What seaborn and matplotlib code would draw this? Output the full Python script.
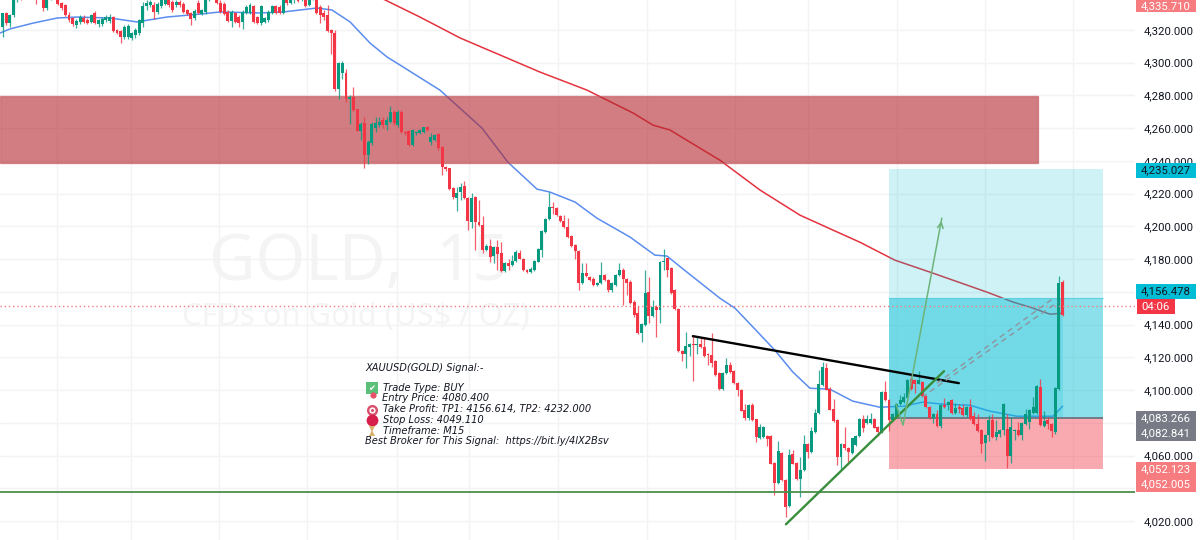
import numpy as np
import matplotlib
matplotlib.use("Agg")
import matplotlib.pyplot as plt
from matplotlib.lines import Line2D
from matplotlib.patches import Rectangle
import seaborn as sns

# candles
opens = [
    4321.6,4330.2,4324,4329.1,4338,4341,4340,4342,4343,4341,
    4340,4341,4333.2,4339,4341,4342,4336.3,4335.2,4329.1,4327.1,
    4323,4325,4327.1,4326.1,4325,4330.6,4323.6,4323.6,4326.1,4325.7,
    4327.7,4320,4319.6,4315.5,4315.5,4314.9,4316.9,4318,4324,4334.6,
    4335.2,4335.2,4331.2,4334.6,4336,4339,4337.3,4335.2,4337.3,4335.9,
    4332.2,4330.2,4327.1,4336.3,4329.7,4331.2,4338,4341,4340,4336.7,
    4335.9,4331.2,4325.7,4330.2,4328.1,4325,4330.6,4330.6,4334.6,4327.7,
    4324.4,4325,4326.1,4330.2,4334.6,4334.2,4330.6,4339,4336.7,4338,
    4339,4338,4341,4335.2,4339,4341,4333.8,4330.2,4329.1,4320,
    4318,4283.7,4293.9,4293.9,4277.6,4279.2,4271.5,4258.4,4262.9,4243.6,
    4250.7,4259.9,4261.9,4265,4261.9,4263.9,4270,4261.9,4270,4257.8,
    4258.4,4249.7,4256.8,4257.2,4257.8,4260.5,4251.7,4252.7,4256.2,4248.3,
    4236.4,4235.4,4223.6,4217.1,4221.2,4224.6,4217.1,4202.8,4217.7,4202.8,
    4200.8,4185.9,4188,4181.9,4187.6,4183.9,4172.9,4177.8,4176.4,4179,
    4183.9,4180.4,4173.7,4172.3,4173.3,4178.4,4185.9,4196.7,4204.3,4212,
    4211,4206.3,4203.4,4199.4,4194.1,4188.6,4185.1,4165.6,4171.3,4169.2,
    4168.2,4164.1,4165.2,4170.2,4167.2,4161.1,4164.1,4170.2,4173.7,4167.6,
    4166.2,4154,4146.9,4135,4139.7,4160.1,4145.2,4151,4148.9,4178,
    4180.5,4174.4,4161.1,4149.3,4124,4122,4126.5,4128.1,4127.5,4128.5,
    4126.5,4122.4,4121.4,4117.9,4110.2,4101,4110.2,4115.3,4111.8,4104.5,
    4100.4,4088.2,4083.3,4090.9,4082.1,4071.1,4071.5,4071.9,4071.9,4055.6,
    4043.4,4061.7,4045.4,4029.1,4060.9,4055.6,4046,4051.1,4067,4062.3,
    4074.6,4085.8,4103.1,4113.3,4101,4088.8,4081.7,4058.9,4067,4064.4,
    4061.7,4066.4,4071.9,4082.5,4080.1,4080.1,4082.5,4077.6,4074.6,4099,
    4093.8,4081.6,4083.7,4091.4,4092.8,4095.5,4107.1,4106.5,4104,4105,
    4096.3,4089.8,4083.3,4085.3,4078.2,4090.8,4090.8,4093.8,4086.1,4089.8,
    4089.4,4084.7,4089.8,4084.1,4079.6,4075.5,4067.8,4072.5,4082,4071.4,
    4073.5,4075.5,4076.5,4059.6,4074.9,4075.5,4072.5,4079.2,4080.6,4086.1,
    4086.1,4102,4078.2,4081.6,4079.6,4074.5,4101,4166.2,
]
closes = [
    4330.2,4324.4,4329.1,4338.3,4341,4340,4342,4343,4341,4340,
    4341,4333.2,4339,4341,4342,4335.9,4333.2,4329.1,4326.1,4323.6,
    4325.7,4328.1,4325,4324.4,4329.1,4324.4,4326.1,4326.5,4328.1,4328.1,
    4319.6,4318.3,4315.5,4322,4322.4,4317.9,4320,4326.1,4334.6,4336.3,
    4337.3,4331.2,4335.9,4338.3,4339,4335.2,4332.2,4337.3,4335.2,4331.2,
    4329.7,4326.5,4331.8,4330.2,4332.2,4338.3,4341,4343,4336.7,4331.2,
    4329.7,4325.7,4331.2,4325,4324.4,4331.2,4333.8,4335.2,4325,4324.4,
    4334.6,4327.1,4331.2,4334.6,4330.6,4330.6,4338.3,4336.3,4338.6,4339,
    4337.5,4341,4334.6,4339,4341,4330.2,4329.1,4328.1,4319.6,4318,
    4283.7,4300,4300,4277.6,4279.2,4271.1,4258.4,4262.5,4243.6,4251.7,
    4262.5,4262.9,4264,4261.9,4265,4270,4262.9,4270,4257.8,4256.8,
    4249.7,4258.9,4257.8,4258.9,4260.5,4258.9,4254.8,4255.8,4247.7,4236.4,
    4234.8,4222.6,4217.7,4220.6,4223.8,4217.1,4203.4,4217.1,4202.8,4200.8,
    4185.5,4188,4181.4,4187.2,4183.1,4172.9,4177.8,4175.7,4179,4184.5,
    4180.4,4173.3,4172.3,4174.3,4179,4186.5,4197.3,4204.3,4212,4211,
    4206.9,4203.4,4199.4,4193.3,4188,4185.1,4165.2,4171.3,4169.6,4167.2,
    4164.1,4165.6,4170.2,4167.2,4161.1,4165.2,4170.2,4173.7,4167.6,4165.2,
    4153.4,4145.9,4135,4140.4,4159.5,4145.2,4151,4148.9,4178.4,4179,
    4173.4,4159.5,4149.3,4124,4122,4126.9,4128.1,4127.5,4128.5,4126.1,
    4120.8,4121.4,4116.3,4109.2,4101,4110.2,4115.3,4111.2,4104.5,4100,
    4087.4,4083.3,4090.9,4081.7,4071.5,4077.6,4077.6,4069.9,4055.2,4043.4,
    4063,4045,4028.7,4060.3,4055.2,4046,4051.5,4067,4062.3,4075.2,
    4086.2,4103.7,4113.9,4100.4,4088.2,4081.3,4058.9,4067,4064.4,4062.3,
    4070.5,4071.9,4082.5,4076.6,4082.7,4082.7,4077.2,4074.6,4099,4093.8,
    4081.6,4085.7,4091.8,4094.3,4095.9,4106.5,4101,4104,4106.5,4096.3,
    4089.8,4083.3,4085.7,4078.2,4090.8,4089.8,4092.8,4086.1,4089.4,4088.8,
    4084.7,4089.8,4082.6,4079.6,4075.1,4067.4,4072.5,4082,4071.4,4074.5,
    4075.5,4091.8,4059.6,4077.5,4075.5,4072.5,4080,4085.3,4087.7,4089.8,
    4102.4,4078.6,4081.2,4079.6,4075.1,4101.6,4165.6,4146.2,
]
highs = [
    4330.6,4331,4330,4340,4343,4343,4344,4345,4344,4343,
    4343,4342,4341,4343,4344,4343,4337,4336,4331,4328,
    4327,4329,4329,4327.5,4330,4331.5,4327,4328,4329,4329.5,
    4328.5,4320.5,4320,4323,4323.5,4319,4321,4327,4337,4338,
    4338.3,4337,4337,4340,4341,4340,4338,4338,4338,4337,
    4333,4331,4332.5,4338,4333,4340,4342,4344,4341,4338,
    4337,4332,4332,4331,4329,4332,4335,4336.5,4335.5,4328.5,
    4335.5,4328,4332,4335.5,4335.5,4335,4340,4340,4340,4340,
    4341,4342,4342,4340,4342,4342,4335,4332,4335.2,4320.5,
    4320,4300.5,4301,4296,4280,4285,4272,4263.5,4267,4252.5,
    4263.5,4267,4267,4267,4267,4273.5,4271,4271,4271,4258.5,
    4259,4259.5,4258.5,4259.5,4261,4261.2,4256.8,4256.5,4257,4249,
    4237,4236,4224,4224.2,4226.3,4227.9,4218,4220.2,4218.5,4216.1,
    4206.3,4189,4192.6,4188,4191.6,4190.6,4178.5,4180.4,4182.5,4185.5,
    4185.9,4181,4174.3,4175,4179.6,4187,4198,4205,4221.2,4215,
    4212,4207,4206.9,4204.9,4194.8,4189.2,4185.9,4177.8,4177.4,4169.8,
    4169,4166.3,4178.4,4171,4168,4166,4171,4177.8,4174.5,4168.3,
    4167,4154.8,4151.6,4141,4173.4,4169.3,4155,4152,4179,4186,
    4181,4175,4162,4150,4124.5,4135.7,4129,4133,4132.2,4132,
    4132,4123,4134.7,4118.5,4110.8,4111,4119.4,4117.3,4112.4,4105,
    4101,4091.5,4091.5,4091.9,4082.7,4079.2,4078.2,4072.5,4072.5,4056,
    4069,4062.2,4046,4063.8,4063.4,4056,4059.3,4072.5,4067.5,4077.6,
    4088.8,4112.2,4117.3,4116.3,4102,4094.9,4082.2,4067.5,4077.6,4065,
    4071,4072.5,4083,4084.7,4084.7,4085.8,4083,4078.2,4099.5,4105.5,
    4094.4,4086.3,4092.4,4096.9,4098,4107,4110.1,4107,4111.8,4105.6,
    4097,4090.4,4086.3,4087.7,4091.4,4095.5,4093.4,4094.4,4092.2,4091.8,
    4091.8,4090.4,4094.9,4086.7,4085.7,4076,4073,4084.7,4085.3,4081.6,
    4076,4092.4,4085.3,4083.7,4076,4080.6,4080.6,4088.8,4088.3,4095.9,
    4103,4107.1,4087.3,4083.7,4080.2,4102.2,4169.6,4167,
]
lows = [
    4315.9,4323,4321.6,4328,4337,4338,4339,4341,4340,4336,
    4339,4331.5,4332,4338,4340,4335,4332,4328.5,4325,4322.5,
    4321,4323.5,4324,4323.5,4324,4323.5,4321.6,4322.5,4325,4324,
    4319,4317.5,4312.2,4314.5,4314.5,4314,4315,4317,4322,4332,
    4334,4327,4330,4333.5,4335,4334,4331,4334,4334,4330.5,
    4329,4323,4326,4329.5,4329,4330,4337.5,4340,4336,4330.5,
    4329,4325,4322,4324,4322,4320.4,4330,4330,4324,4323.5,
    4323,4324.5,4325,4329.5,4330,4330,4330,4335.5,4336,4336.5,
    4337,4337.5,4334,4334.5,4338,4329.5,4324.4,4326.1,4318.5,4305.3,
    4283,4277.6,4289.8,4276,4262.5,4270.5,4258,4252.7,4235.4,4238.1,
    4250,4257.8,4260.9,4259.9,4258.9,4263,4262,4261,4257,4256,
    4249,4249,4256,4256.5,4257,4258.3,4249.7,4252,4246.6,4231.4,
    4234,4222,4217,4209.6,4216.1,4216.5,4197.7,4198.8,4185.9,4200,
    4183.9,4185,4178.4,4177.4,4173.3,4172.3,4172.3,4173.3,4175.7,4178.4,
    4180,4172.8,4171.8,4171.3,4172.8,4178,4181.4,4196,4203.8,4207.9,
    4206.3,4202.8,4198.8,4192.8,4187.4,4180.4,4161.1,4165,4169,4166.6,
    4163.5,4163.5,4164.6,4166.6,4160,4160,4163.5,4169.6,4152,4158,
    4152.8,4144.4,4134.4,4129.6,4139,4140.8,4144.5,4132.6,4141.2,4173.4,
    4169.3,4159,4149,4123.5,4118,4113.3,4120.8,4105.7,4122,4125.5,
    4120.2,4115.3,4114.3,4108.6,4100.4,4100,4109.7,4110.6,4104,4096.4,
    4087,4081.7,4081.7,4081,4068.5,4069.9,4071,4065.8,4054.8,4035.9,
    4043,4044.5,4022.6,4028.7,4054.8,4045,4034.8,4050.5,4058.3,4061.8,
    4074,4085.2,4102.5,4100,4087.7,4080.8,4054.2,4051.5,4063.4,4056.2,
    4061,4065.9,4071.4,4074.6,4079.5,4079.5,4076.6,4071.9,4074,4093.2,
    4075.1,4081,4083,4090.8,4092.2,4095,4100.4,4098.3,4103.5,4095.8,
    4089.2,4082.7,4080,4077.6,4076.9,4089.2,4087.7,4085.5,4085.5,4086,
    4084.1,4083.5,4081.6,4079,4074.5,4061.7,4056.8,4069,4070.8,4069.4,
    4071.4,4072.5,4052.7,4055.8,4069.4,4071.9,4069.4,4078.6,4076.5,4085.5,
    4085.5,4078,4077.6,4076.5,4071.4,4073.5,4100.4,4145.6,
]

# moving averages, vertices (bar number, price)
ma_fast_bar = [-0.7,2,8.3,14.8,20.2,29.1,36.4,44.5,53.5,58.9,69.7,76,85.1,89.2,94.1,99.5,104.1,107.6,
               118.4,129.8,136.8,144.7,148.2,155,160.9,169.9,176.6,179.9,185.3,194.2,198.3,203.2,
               209.1,214,218.6,224,230.2,237.5,243.8,249.2,254.3,261.9,267.3,274.6,284.4,287]
ma_fast = [4318.1,4320.6,4324.2,4327.3,4327.9,4327.3,4324.9,4327.9,4329.7,4331,4330.4,4331,4333.4,4332.2,
           4324.9,4312,4303.5,4298.6,4283.3,4260.1,4239.3,4222.8,4221,4214.9,4205.1,4193.5,4182.5,4181.9,
           4172.1,4156.2,4150.1,4138.5,4124.4,4111,4101.2,4100.6,4093.3,4089.6,4090.2,4092.7,4091.5,
           4090.8,4087.2,4084.1,4084.1,4090.2]
ma_slow_bar = [100.8,113,123.9,134.7,145.5,158.2,170.7,176.1,180.7,183.4,194.2,205.1,215.9,224.8,232.1,
               241.6,251.1,266.5,273.6,278.2,283.6,286.8]
ma_slow = [4341.4,4327.9,4315.1,4304.7,4294.3,4283.3,4269.3,4261.9,4258.9,4255.2,4240.5,4222.2,4206.9,
           4197.8,4190.4,4179.4,4172.1,4159.9,4153.8,4150.7,4146.4,4147]

# drawings on the chart
black_bar = [186.9, 258.9]
black_price = [4133, 4104.3]
trend_bar = [212.1, 254.9]
trend_price = [4018.1, 4111.6]
arrow_bar = [241.9, 243.8, 254.3]
arrow_price = [4091.5, 4078.6, 4205.1]
dash1_bar = [253, 284.9]
dash1_price = [4104.3, 4156.8]
dash2_bar = [248.9, 285.7]
dash2_price = [4095.7, 4153.8]

support = 4037.7
last_line = 4151.3
zone_top, zone_bottom = 4279.6, 4238.7
tp2, tp1, entry, stop = 4235.027, 4156.478, 4082.841, 4052.123
tool_left, tool_right, tool_split = 240, 297.9, 287
zone_right = 280.3

y_ticks = list(range(4020, 4340, 20))
covered_ticks = [4040, 4080, 4160]  # sit behind the coloured price tags
x_grid = [14.8, 34.8, 58.6, 82.4, 106.8, 126.3, 150.4, 174.5, 198.3, 218, 242.2, 266, 289.8]

signal_lines = [
    (365, 368, "XAUUSD(GOLD) Signal:-"),
    (383, 388, "Trade Type: BUY"),
    (382, 398, "Entry Price: 4080.400"),
    (383, 409, "Take Profit: TP1: 4156.614, TP2: 4232.000"),
    (383, 420, "Stop Loss: 4049.110"),
    (383, 431, "Timeframe: M15"),
    (365, 441, "Best Broker for This Signal:  https://bit.ly/4lX2Bsv"),
]
price_tags = [
    (0, 12, "#F77C80", [("4,335.710", "white", 6)]),
    (163, 178, "#00BCD4", [("4,235.027", "#131722", 170.5)]),
    (284, 299, "#00BCD4", [("4,156.478", "#131722", 291.5)]),
    (411, 441, "#787B86", [("4,083.266", "white", 418.5), ("4,082.841", "white", 433.5)]),
    (462, 492, "#F77C80", [("4,052.123", "white", 469.5), ("4,052.005", "white", 484.5)]),
]

sns.set_theme(style="white")
plt.rcParams["font.family"] = ["Roboto", "DejaVu Sans"]

GREEN = "#089981"
RED = "#F23645"

fig = plt.figure(figsize=(12, 5.4), dpi=100)
ax = fig.add_axes([0, 0, 1135 / 1200, 1])
bars = np.arange(len(opens))
o, c, h, l = map(np.array, (opens, closes, highs, lows))
up = c >= o

ax.set_xlim(-0.677, 306.6)
ax.set_ylim(4008.5, 4338.3)
ax.set_xticks(x_grid)
ax.set_yticks(y_ticks)
ax.set_yticklabels(["" if v in covered_ticks else f"{v:,.3f}" for v in y_ticks], fontsize=8.2, color="#131722")
ax.yaxis.tick_right()
ax.tick_params(axis="y", length=0, pad=6.3)
ax.tick_params(axis="x", length=0, labelbottom=False)
ax.grid(True, color="#F2F3F4", lw=1)
ax.set_axisbelow(True)
sns.despine(ax=ax, left=True, bottom=True, right=True, top=True)

# watermark
ax.text(0.1845, 0.4815, "GOLD,  15", transform=ax.transAxes, fontsize=46, color="#F4F4F5",
        family="Noto Sans", ha="left", va="baseline", zorder=0.5)
ax.text(0.16, 0.398, "CFDs on Gold (US$ / OZ)", transform=ax.transAxes, fontsize=22.2, color="#F4F4F5",
        family="Noto Sans", ha="left", va="baseline", zorder=0.5)

# moving averages go under the zones
sns.lineplot(x=ma_fast_bar, y=ma_fast, ax=ax, color="#5B8DEF", lw=1.1, sort=False, estimator=None, zorder=1)
sns.lineplot(x=ma_slow_bar, y=ma_slow, ax=ax, color="#E5323F", lw=1.1, sort=False, estimator=None, zorder=1)

# long position tool
ax.add_patch(Rectangle((tool_left, tp1), tool_right - tool_left, tp2 - tp1, fc="#00BCD4", alpha=0.19, lw=0, zorder=1.5))
ax.add_patch(Rectangle((tool_left, entry), tool_right - tool_left, tp1 - entry, fc="#00BCD4", alpha=0.45, lw=0, zorder=1.5))
ax.add_patch(Rectangle((tool_left, entry), tool_split - tool_left, tp1 - entry, fc="#00BCD4", alpha=0.18, lw=0, zorder=1.5))
ax.add_patch(Rectangle((tool_left, stop), tool_right - tool_left, entry - stop, fc="#F23645", alpha=0.42, lw=0, zorder=1.5))
ax.hlines(entry, tool_left, tool_right, color="#6E7480", lw=1.3, zorder=1.6)
ax.hlines(tp1, tool_left, tool_right, color="#5CCFE0", lw=0.8, zorder=1.6)

# supply zone
ax.add_patch(Rectangle((-0.677, zone_bottom), zone_right + 0.677, zone_top - zone_bottom, fc="#B3272D", ec="#C2565C",
                       alpha=0.6, lw=1, zorder=2))

# candles
ax.vlines(bars[up], l[up], h[up], color=GREEN, lw=0.9, alpha=0.8, zorder=3)
ax.vlines(bars[~up], l[~up], h[~up], color=RED, lw=0.9, alpha=0.8, zorder=3)
ax.bar(bars[up], (c - o)[up], bottom=o[up], width=0.8, color=GREEN, lw=0, zorder=3.1)
ax.bar(bars[~up], (o - c)[~up], bottom=c[~up], width=0.8, color=RED, lw=0, zorder=3.1)

# lines drawn on the chart
ax.axhline(support, color="#4C8F4C", lw=1.3, zorder=3.2)
ax.axhline(last_line, color="#F77C80", lw=1, ls=(0, (1, 2)), zorder=3.2)
sns.lineplot(x=black_bar, y=black_price, ax=ax, color="black", lw=1.7, sort=False, estimator=None, zorder=4)
sns.lineplot(x=trend_bar, y=trend_price, ax=ax, color="#388E3C", lw=1.7, sort=False, estimator=None, zorder=4)
sns.lineplot(x=arrow_bar, y=arrow_price, ax=ax, color="#6DB47A", lw=1.1, sort=False, estimator=None, zorder=4)
ax.annotate("", xy=(arrow_bar[-1], arrow_price[-1]), xytext=(arrow_bar[-1] - 0.4, arrow_price[-1] - 6),
            arrowprops=dict(arrowstyle="->", color="#6DB47A", lw=1.1, mutation_scale=10), zorder=4)
for dx, dy in [(dash1_bar, dash1_price), (dash2_bar, dash2_price)]:
    ax.plot(dx, dy, color="#8E939C", lw=1, ls=(0, (4, 3)), zorder=4)


def px(x, y):
    return x / 1200, 1 - y / 540


# price scale tags
for top, bottom, colour, rows in price_tags:
    fig.add_artist(Rectangle(px(1136, bottom), 60 / 1200, (bottom - top) / 540, fc=colour, lw=0,
                             transform=fig.transFigure, zorder=5))
    for label, text_colour, y in rows:
        fx, fy = px(1191, y)
        fig.text(fx, fy, label, color=text_colour, fontsize=8.2, ha="right", va="center", zorder=6)
fig.add_artist(Rectangle(px(1137, 314), 38 / 1200, 15 / 540, fc=RED, lw=0, transform=fig.transFigure, zorder=5))
fig.text(*px(1156, 306.5), "04:06", color="white", fontsize=8.2, ha="center", va="center", zorder=6)

# signal text block
for x, y, line in signal_lines:
    fig.text(*px(x, y), line, fontsize=7.1, style="italic", family="DejaVu Sans", color="#131722",
             ha="left", va="center", zorder=6)
icons = [
    (372, 388, "s", "#5BBF7A", 8.5), (373, 395, "o", "#E8506A", 4.5), (372, 410, "o", "#D9506E", 8),
    (372, 410, "o", "white", 4.5), (372, 410, "o", "#D9506E", 2.2), (372, 420, "o", "#D81E4A", 8.5),
    (372, 429, "v", "#D9B36C", 5), (372, 433, "^", "#D9B36C", 5),
]
for x, y, marker, colour, size in icons:
    fx, fy = px(x, y)
    fig.add_artist(Line2D([fx], [fy], marker=marker, color=colour, ms=size, mew=0, ls="",
                          transform=fig.transFigure, zorder=6))
fig.text(*px(372, 388), "\u2714", color="white", fontsize=6, family="DejaVu Sans", ha="center", va="center", zorder=7)

fig.savefig("out.png", dpi=100)
